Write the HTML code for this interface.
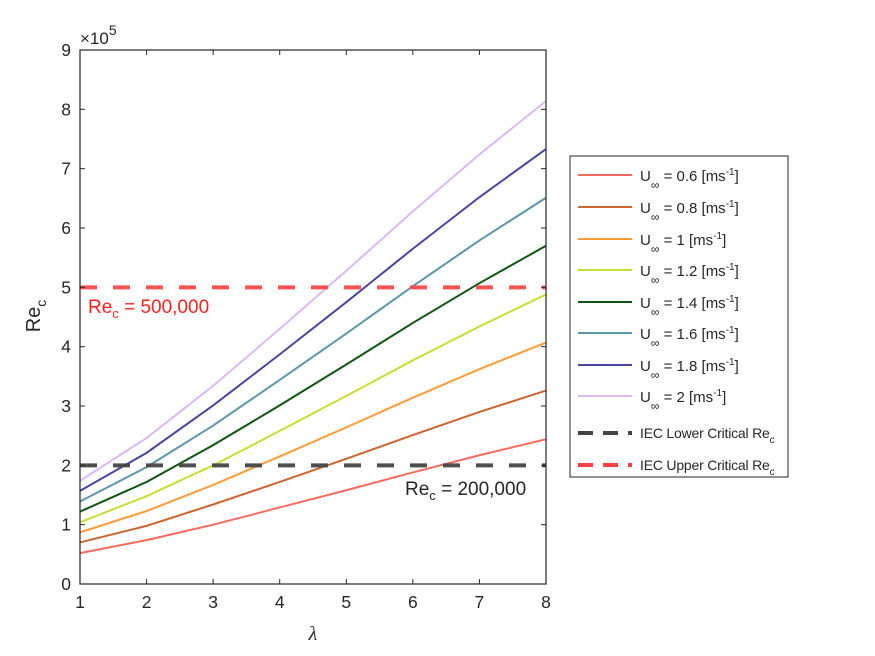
<!DOCTYPE html>
<html><head><meta charset="utf-8"><style>
body{margin:0;background:#fff}
svg{display:block;font-family:"Liberation Sans",Arial,sans-serif}
</style></head><body>
<svg id="chart" width="875" height="656" viewBox="0 0 875 656">
<rect width="875" height="656" fill="#fff"/>
<g id="plot"></g>
</svg>
<script>
const lambdas=[1,2,3,4,5,6,7,8];
const speeds=["0.6","0.8","1","1.2","1.4","1.6","1.8","2"];
const s06=[0.52,0.74,1.00,1.29,1.58,1.88,2.17,2.44];
const s08=[0.70,0.98,1.34,1.72,2.11,2.51,2.90,3.26];
const s10=[0.87,1.23,1.67,2.15,2.64,3.14,3.62,4.07];
const s12=[1.04,1.48,2.00,2.58,3.17,3.77,4.34,4.88];
const s14=[1.22,1.72,2.34,3.01,3.70,4.40,5.07,5.70];
const s16=[1.39,1.97,2.67,3.44,4.22,5.02,5.79,6.51];
const s18=[1.57,2.21,3.01,3.87,4.75,5.65,6.52,7.33];
const s20=[1.74,2.46,3.34,4.30,5.28,6.28,7.24,8.14];
const colors=["#fa6b5e","#cc6530","#ff9c37","#c4e035","#0e560e","#5b97a9","#4646a0","#dcb8fb"];
const xTicks=[1,2,3,4,5,6,7,8];
const yTicks=[0,1,2,3,4,5,6,7,8,9];
const lowerCrit=2, upperCrit=5;
const series=[s06,s08,s10,s12,s14,s16,s18,s20];
const L=80,R=546,T=50,B=584;
const xs=v=>L+(v-1)/7*(R-L);
const ys=v=>B-v/9*(B-T);
const NS="http://www.w3.org/2000/svg";
const g=document.getElementById('plot');
function mk(tag,attrs,parent){const e=document.createElementNS(NS,tag);for(const k in attrs)e.setAttribute(k,attrs[k]);(parent||g).appendChild(e);return e;}
series.forEach((s,i)=>{
 const p=mk('polyline',{points:s.map((v,j)=>xs(lambdas[j])+','+ys(v)).join(' '),fill:'none',stroke:colors[i],'stroke-width':2});
 
 
});
const lo=mk('line',{x1:L,x2:R,y1:ys(lowerCrit),y2:ys(lowerCrit),stroke:'#444','stroke-width':4,'stroke-dasharray':'17,16','stroke-opacity':0.95});


const up=mk('line',{x1:L,x2:R,y1:ys(upperCrit),y2:ys(upperCrit),stroke:'#ff4040','stroke-width':4,'stroke-dasharray':'17,16','stroke-opacity':0.9});


const box=mk('rect',{x:L,y:T,width:R-L,height:B-T,fill:'none',stroke:'#262626','stroke-width':1.2});


xTicks.forEach(t=>{
 const x=xs(t);
 mk('line',{x1:x,x2:x,y1:B,y2:B-5,stroke:'#262626'});
 mk('line',{x1:x,x2:x,y1:T,y2:T+5,stroke:'#262626'});
 const tx=mk('text',{x:x,y:B+24,'text-anchor':'middle','font-size':17.5,fill:'#262626'});tx.textContent=t;
 
 
});
yTicks.forEach(t=>{
 const y=ys(t);
 mk('line',{x1:L,x2:L+5,y1:y,y2:y,stroke:'#262626'});
 mk('line',{x1:R,x2:R-5,y1:y,y2:y,stroke:'#262626'});
 const tx=mk('text',{x:L-9,y:y+6,'text-anchor':'end','font-size':17.5,fill:'#262626'});tx.textContent=t;
 
 
});
</script>
<svg style="position:absolute;left:0;top:0" width="875" height="656">
<text x="80" y="44" font-size="17" fill="#262626">×10<tspan dy="-9" font-size="14">5</tspan></text>
<text transform="translate(40,316) rotate(-90)" text-anchor="middle" font-size="20" fill="#262626">Re<tspan dy="6" font-size="14">c</tspan></text>
<text x="313" y="640" text-anchor="middle" font-size="20" font-style="italic" fill="#262626" font-family="Liberation Serif,serif">λ</text>
<text x="88" y="313" font-size="19" fill="#ff2020">Re<tspan dy="5" font-size="13">c</tspan><tspan dy="-5"> = 500,000</tspan></text>
<text x="405" y="495" font-size="19" fill="#262626">Re<tspan dy="5" font-size="13">c</tspan><tspan dy="-5"> = 200,000</tspan></text>
<g font-size="15" fill="#262626">
<rect x="570" y="156" width="218" height="321" fill="#fff" stroke="#262626" stroke-width="1"/>
<line x1="578" x2="632" y1="175" y2="175" stroke="#fa6b5e" stroke-width="2"/>
<text x="640" y="181">U<tspan dy="8" font-size="12">∞</tspan><tspan dy="-8"> = 0.6 [ms</tspan><tspan dy="-6" font-size="10">-1</tspan><tspan dy="6">]</tspan></text>
<line x1="578" x2="632" y1="207" y2="207" stroke="#cc6530" stroke-width="2"/>
<text x="640" y="213">U<tspan dy="8" font-size="12">∞</tspan><tspan dy="-8"> = 0.8 [ms</tspan><tspan dy="-6" font-size="10">-1</tspan><tspan dy="6">]</tspan></text>
<line x1="578" x2="632" y1="239" y2="239" stroke="#ff9c37" stroke-width="2"/>
<text x="640" y="245">U<tspan dy="8" font-size="12">∞</tspan><tspan dy="-8"> = 1 [ms</tspan><tspan dy="-6" font-size="10">-1</tspan><tspan dy="6">]</tspan></text>
<line x1="578" x2="632" y1="270" y2="270" stroke="#c4e035" stroke-width="2"/>
<text x="640" y="276">U<tspan dy="8" font-size="12">∞</tspan><tspan dy="-8"> = 1.2 [ms</tspan><tspan dy="-6" font-size="10">-1</tspan><tspan dy="6">]</tspan></text>
<line x1="578" x2="632" y1="302" y2="302" stroke="#0e560e" stroke-width="2"/>
<text x="640" y="308">U<tspan dy="8" font-size="12">∞</tspan><tspan dy="-8"> = 1.4 [ms</tspan><tspan dy="-6" font-size="10">-1</tspan><tspan dy="6">]</tspan></text>
<line x1="578" x2="632" y1="333" y2="333" stroke="#5b97a9" stroke-width="2"/>
<text x="640" y="339">U<tspan dy="8" font-size="12">∞</tspan><tspan dy="-8"> = 1.6 [ms</tspan><tspan dy="-6" font-size="10">-1</tspan><tspan dy="6">]</tspan></text>
<line x1="578" x2="632" y1="365" y2="365" stroke="#4646a0" stroke-width="2"/>
<text x="640" y="371">U<tspan dy="8" font-size="12">∞</tspan><tspan dy="-8"> = 1.8 [ms</tspan><tspan dy="-6" font-size="10">-1</tspan><tspan dy="6">]</tspan></text>
<line x1="578" x2="632" y1="396" y2="396" stroke="#dcb8fb" stroke-width="2"/>
<text x="640" y="402">U<tspan dy="8" font-size="12">∞</tspan><tspan dy="-8"> = 2 [ms</tspan><tspan dy="-6" font-size="10">-1</tspan><tspan dy="6">]</tspan></text>
<line x1="578" x2="632" y1="433" y2="433" stroke="#444" stroke-width="4" stroke-dasharray="15,10"/>
<text x="640" y="438" font-size="14" letter-spacing="-0.2">IEC Lower Critical Re<tspan dy="5" font-size="10">c</tspan></text>
<line x1="578" x2="632" y1="465" y2="465" stroke="#ff4040" stroke-width="4" stroke-dasharray="15,10"/>
<text x="640" y="470" font-size="14" letter-spacing="-0.2">IEC Upper Critical Re<tspan dy="5" font-size="10">c</tspan></text>
</g>
</svg>
</body></html>
